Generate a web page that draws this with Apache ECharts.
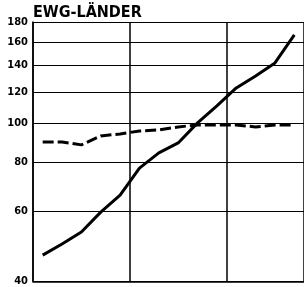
<!DOCTYPE html>
<html>
<head>
<meta charset="utf-8">
<script src="https://cdn.jsdelivr.net/npm/echarts@6/dist/echarts.min.js"></script>
<style>
  html, body { margin: 0; padding: 0; background: #fff; }
  #chart { width: 304px; height: 287px; }
</style>
</head>
<body>
<div id="chart"></div>
<script>
// yearly points, no labels on the x axis in the original
var years = ['1', '2', '3', '4', '5', '6', '7', '8', '9', '10', '11', '12', '13', '14'];
// solid line (production index)
var solidValues = [46.6, 49.7, 53.3, 59.8, 66.0, 77.2, 84.3, 89.3, 100.3, 110.7, 122.8, 131.7, 142.0, 167.0];
// dashed line
var dashedValues = [89.8, 89.8, 88.3, 93.0, 94.1, 95.7, 96.3, 98.0, 99.1, 99.1, 99.1, 98.0, 99.1, 99.1];
// tick labels of the log axis
var yTicks = [40, 60, 80, 100, 120, 140, 160, 180];

var myChart = echarts.init(document.getElementById('chart'));

var option = {
  animation: false,
  title: {
    text: 'EWG-LÄNDER',
    left: 28,
    top: 0,
    textStyle: {
      fontFamily: 'DejaVu Sans Condensed',
      fontWeight: 'bold',
      fontSize: 16,
      color: '#000'
    }
  },
  grid: { left: 33, top: 22, right: -3, bottom: 5 },
  xAxis: {
    type: 'category',
    data: years,
    boundaryGap: true,
    axisLine: { show: true, lineStyle: { color: '#000', width: 1.5 } },
    axisTick: { show: false },
    axisLabel: { show: false },
    splitLine: { show: true, interval: 4, lineStyle: { color: '#000', width: 1.5 } }
  },
  yAxis: {
    type: 'log',
    logBase: 10,
    min: 40,
    max: 180,
    axisLine: { show: true, onZero: false, lineStyle: { color: '#000', width: 1.5 } },
    axisTick: { show: false, customValues: yTicks },
    axisLabel: {
      customValues: yTicks,
      margin: 5,
      color: '#000',
      fontFamily: 'DejaVu Sans Condensed',
      fontWeight: 'bold',
      fontSize: 11
    },
    splitLine: { show: true, lineStyle: { color: '#000', width: 1 } }
  },
  series: [
    {
      type: 'line',
      data: solidValues,
      symbol: 'none',
      lineStyle: { color: '#000', width: 3 }
    },
    {
      type: 'line',
      data: dashedValues,
      symbol: 'none',
      lineStyle: { color: '#000', width: 3, type: [11, 4] }
    }
  ]
};
myChart.setOption(option);
</script>
</body>
</html>
